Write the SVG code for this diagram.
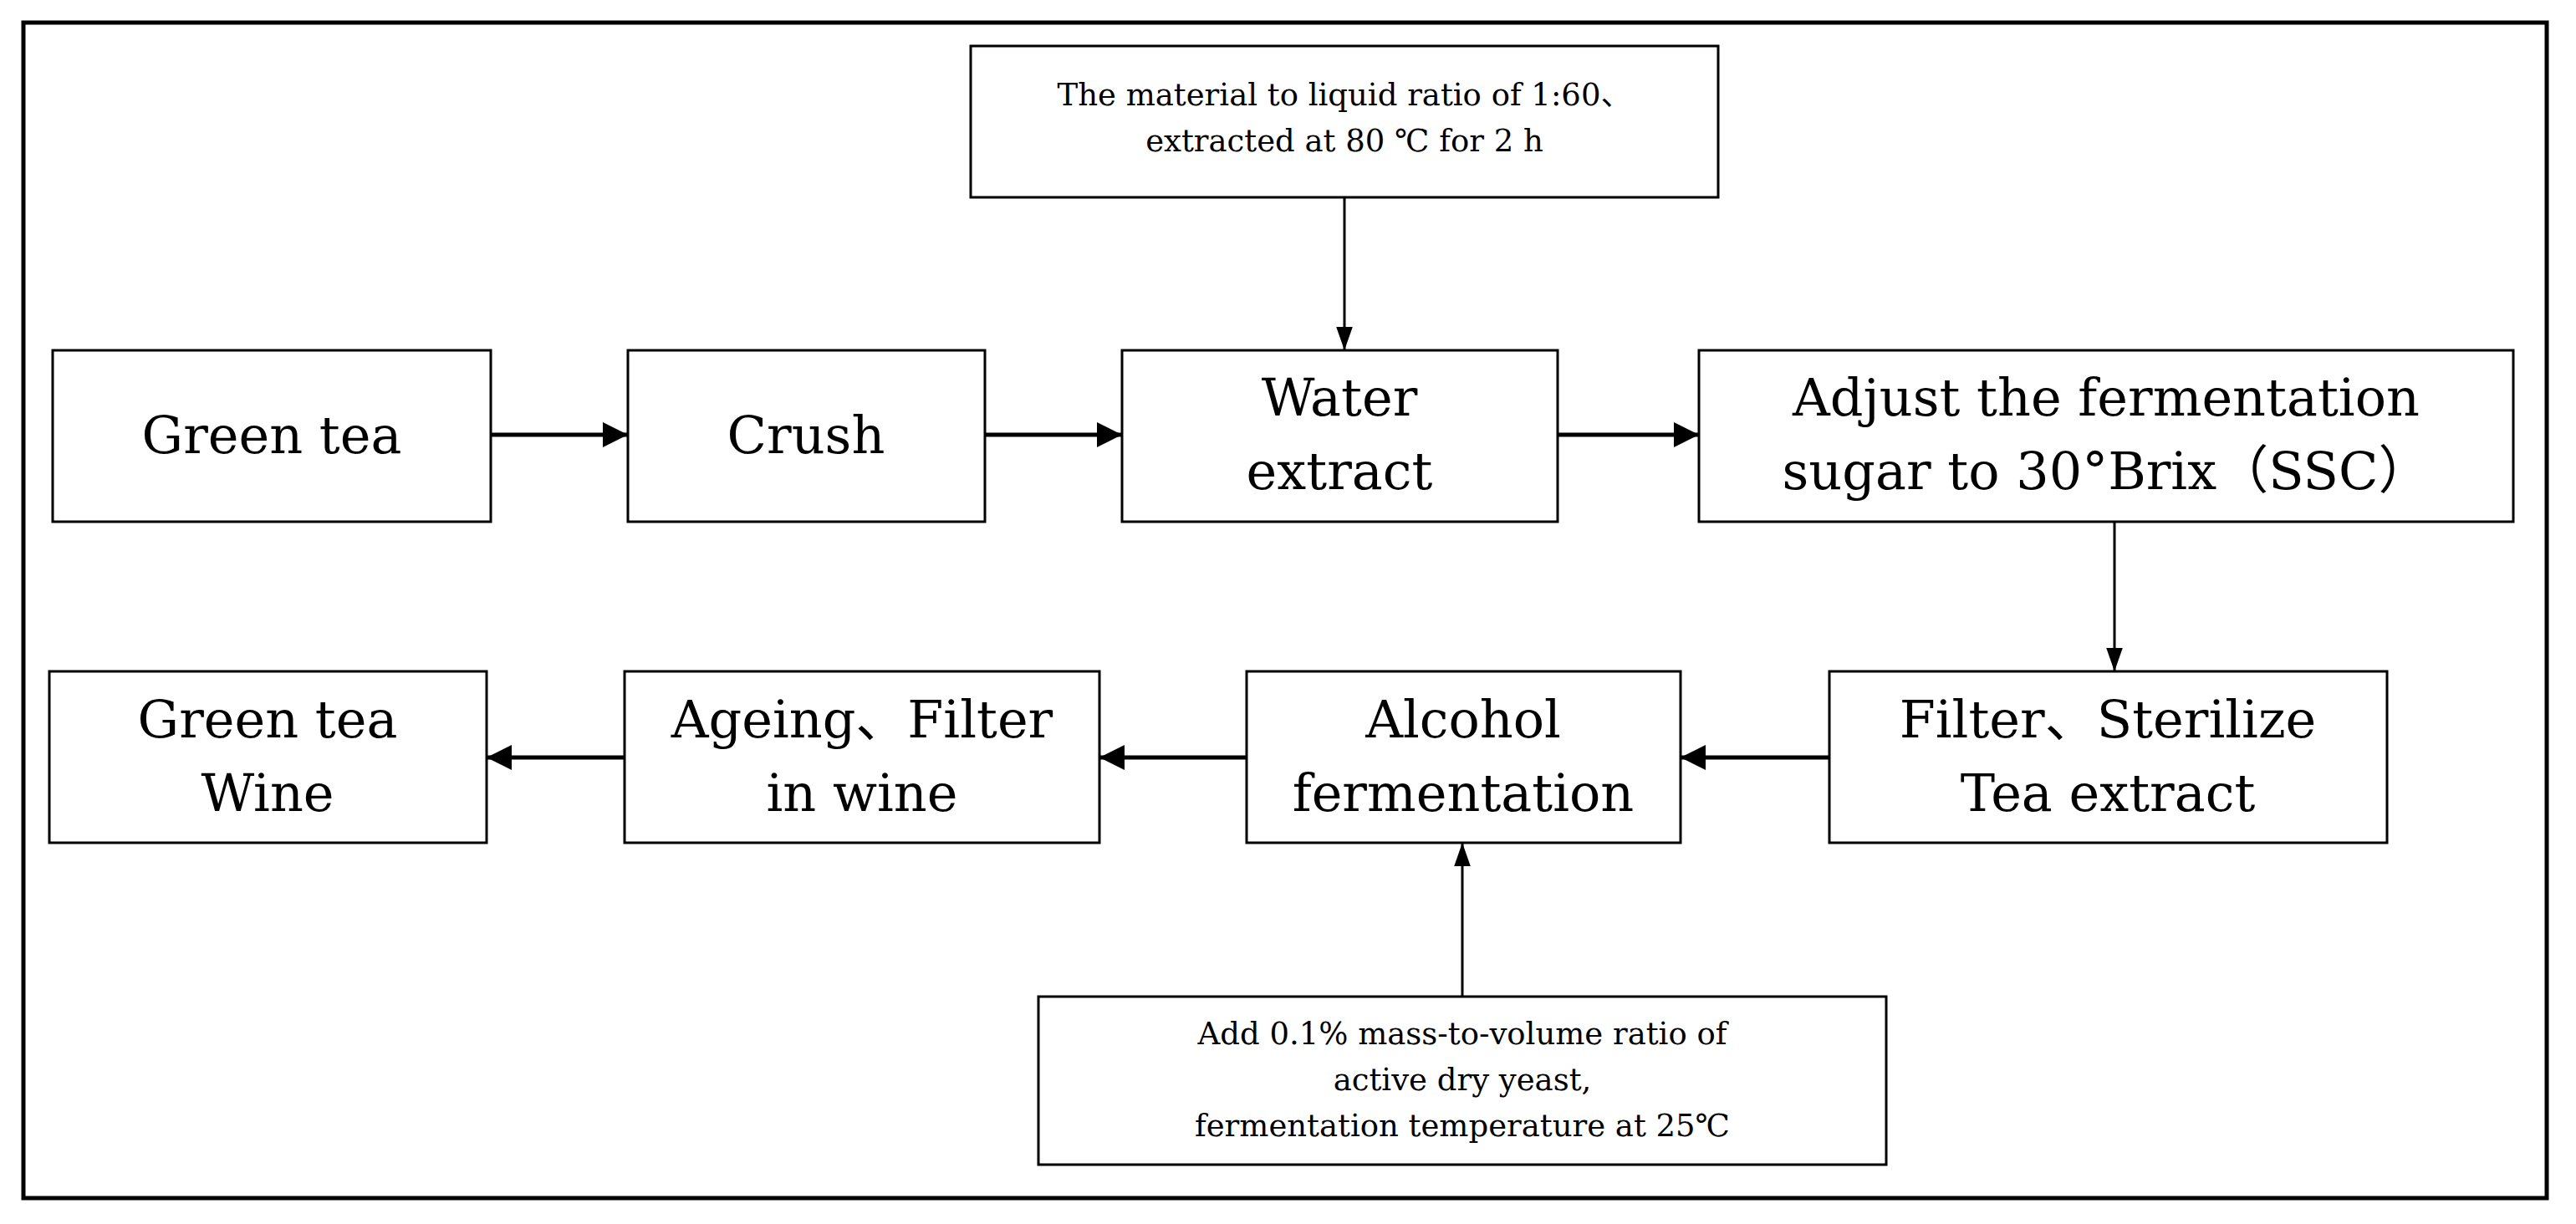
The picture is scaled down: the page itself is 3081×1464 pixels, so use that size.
<svg xmlns="http://www.w3.org/2000/svg" width="3081" height="1464" viewBox="0 0 3081 1464">
<style>
.b{fill:#fff;stroke:#000;stroke-width:3}
.t{font-family:"DejaVu Serif","Noto Sans CJK SC",serif;font-size:62px;text-anchor:middle;fill:#000}
.s{font-family:"DejaVu Serif","Noto Sans CJK SC",serif;font-size:37px;text-anchor:middle;fill:#000}
.h{stroke:#000;stroke-width:5;fill:none}
.v{stroke:#000;stroke-width:3;fill:none}
</style>
<defs>
<marker id="a" viewBox="0 0 10 10" refX="10" refY="5" markerWidth="6" markerHeight="6" markerUnits="userSpaceOnUse" orient="auto">
<path d="M0,0L10,5L0,10z"/></marker>
<marker id="av" viewBox="0 0 10 10" refX="10" refY="5" markerWidth="28" markerHeight="28" markerUnits="userSpaceOnUse" orient="auto">
<path d="M0,1.5L10,5L0,8.5z"/></marker>
<marker id="ah" viewBox="0 0 10 10" refX="10" refY="5" markerWidth="6" markerHeight="6" orient="auto">
<path d="M0,0L10,5L0,10z"/></marker>
</defs>
<rect x="0" y="0" width="3081" height="1464" fill="#fff"/>
<rect x="28" y="27" width="3018" height="1406" fill="none" stroke="#000" stroke-width="5"/>
<g id="n_top"><rect class="b" x="1161" y="55" width="894" height="181"/>
<text class="s" x="1608" y="126">The material to liquid ratio of 1:60、</text>
<text class="s" x="1608" y="181">extracted at 80 ℃ for 2 h</text></g>
<g id="n_green"><rect class="b" x="63" y="419" width="524" height="205"/><text class="t" x="325" y="542">Green tea</text></g>
<g id="n_crush"><rect class="b" x="751" y="419" width="427" height="205"/><text class="t" x="964" y="542">Crush</text></g>
<g id="n_water"><rect class="b" x="1342" y="419" width="521" height="205"/><text class="t" x="1602" y="497">Water</text><text class="t" x="1602" y="585">extract</text></g>
<g id="n_adjust"><rect class="b" x="2032" y="419" width="974" height="205"/><text class="t" x="2519" y="497">Adjust the fermentation</text><text class="t" x="2519" y="585">sugar to 30°Brix（SSC）</text></g>
<g id="n_filter"><rect class="b" x="2188" y="803" width="667" height="205"/><text class="t" x="2521" y="882">Filter、Sterilize</text><text class="t" x="2521" y="970">Tea extract</text></g>
<g id="n_alcohol"><rect class="b" x="1491" y="803" width="519" height="205"/><text class="t" x="1750" y="882">Alcohol</text><text class="t" x="1750" y="970">fermentation</text></g>
<g id="n_ageing"><rect class="b" x="747" y="803" width="568" height="205"/><text class="t" x="1031" y="882">Ageing、Filter</text><text class="t" x="1031" y="970">in wine</text></g>
<g id="n_wine"><rect class="b" x="59" y="803" width="523" height="205"/><text class="t" x="320" y="882">Green tea</text><text class="t" x="320" y="970">Wine</text></g>
<g id="n_yeast"><rect class="b" x="1242" y="1192" width="1014" height="201"/>
<text class="s" x="1749" y="1249">Add 0.1% mass-to-volume ratio of</text>
<text class="s" x="1749" y="1304">active dry yeast,</text>
<text class="s" x="1749" y="1359">fermentation temperature at 25℃</text></g>
<g id="connectors">
<line class="h" x1="587" y1="520" x2="751" y2="520" marker-end="url(#ah)"/>
<line class="h" x1="1178" y1="520" x2="1342" y2="520" marker-end="url(#ah)"/>
<line class="h" x1="1863" y1="520" x2="2032" y2="520" marker-end="url(#ah)"/>
<line class="h" x1="2188" y1="906" x2="2010" y2="906" marker-end="url(#ah)"/>
<line class="h" x1="1491" y1="906" x2="1315" y2="906" marker-end="url(#ah)"/>
<line class="h" x1="747" y1="906" x2="582" y2="906" marker-end="url(#ah)"/>
<line class="v" x1="1608" y1="236" x2="1608" y2="419" marker-end="url(#av)"/>
<line class="v" x1="2529" y1="624" x2="2529" y2="803" marker-end="url(#av)"/>
<line class="v" x1="1749" y1="1192" x2="1749" y2="1008" marker-end="url(#av)"/>
</g>
</svg>
